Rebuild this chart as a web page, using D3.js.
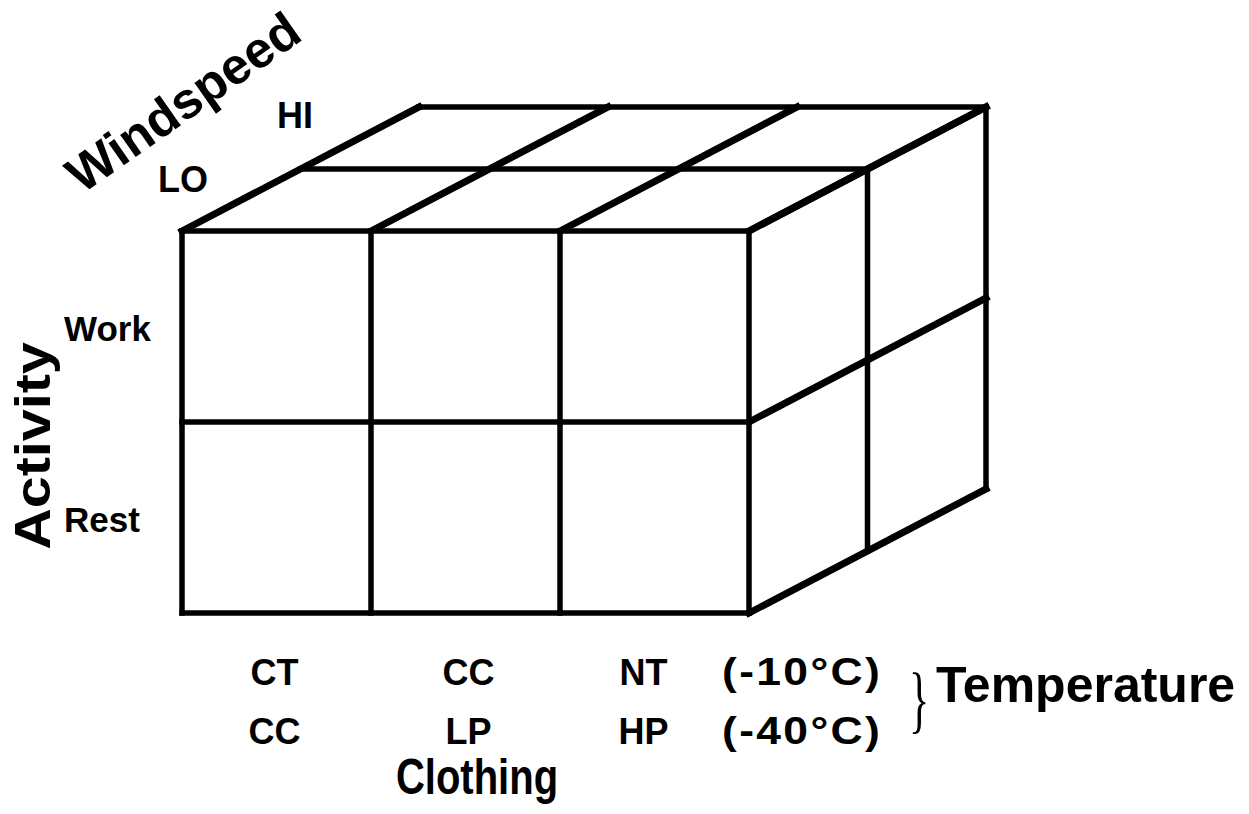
<!DOCTYPE html>
<html>
<head>
<meta charset="utf-8">
<script src="https://cdn.jsdelivr.net/npm/d3@7"></script>
<style>
  body { margin: 0; background: #fff; }
  text { font-family: 'Liberation Sans', Arial, Helvetica, sans-serif; font-weight: bold; fill: #000; }
</style>
</head>
<body>
<div id="chart"></div>
<script>
// categories of the three factors
let clothingCold = ['CT', 'CC', 'NT']
let clothingVeryCold = ['CC', 'LP', 'HP']
let temperatures = ['(-10°C)', '(-40°C)']
let activities = ['Work', 'Rest']
let windspeeds = ['LO', 'HI']

let width = 1249,
  height = 814

let svg = d3.select('#chart').append('svg')
  .attr('width', width)
  .attr('height', height)

// front face: columns = clothing, rows = activity; depth = windspeed
let x = d3.scaleLinear().domain([0, clothingCold.length]).range([182, 749])
let y = d3.scaleLinear().domain([0, activities.length]).range([231, 613])
let depth = d3.scaleLinear().domain([0, windspeeds.length]).range([0, 1])
let dx = 237,
  dy = -124

function p (i, j, k) {
  return [x(i) + depth(k) * dx, y(j) + depth(k) * dy]
}

let nC = clothingCold.length,
  nA = activities.length,
  nW = windspeeds.length

let segs = []
// front face
d3.range(nC + 1).forEach(i => segs.push({ a: p(i, 0, 0), b: p(i, nA, 0), w: 5.5 }))
d3.range(nA + 1).forEach(j => segs.push({ a: p(0, j, 0), b: p(nC, j, 0), w: 5.5 }))
// top face
d3.range(nW + 1).filter(k => k > 0).forEach(k => segs.push({ a: p(0, 0, k), b: p(nC, 0, k), w: 5.5 }))
d3.range(nC + 1).forEach(i => segs.push({ a: p(i, 0, 0), b: p(i, 0, nW), w: 7 }))
// right face
d3.range(nW + 1).filter(k => k > 0).forEach(k => segs.push({ a: p(nC, 0, k), b: p(nC, nA, k), w: 5.5 }))
d3.range(nA + 1).forEach(j => segs.push({ a: p(nC, j, 0), b: p(nC, j, nW), w: 7 }))

svg.append('g').selectAll('line')
  .data(segs)
  .enter().append('line')
  .attr('x1', d => d.a[0])
  .attr('y1', d => d.a[1])
  .attr('x2', d => d.b[0])
  .attr('y2', d => d.b[1])
  .attr('stroke', '#000')
  .attr('stroke-width', d => d.w)
  .attr('stroke-linecap', 'square')

// labels sit a little off the column centres in the original
let nudge = [-2, 3, -11]

svg.append('g').selectAll('text')
  .data(clothingCold)
  .enter().append('text')
  .attr('x', (d, i) => x(i + 0.5) + nudge[i])
  .attr('y', 685)
  .attr('text-anchor', 'middle')
  .style('font-size', '36px')
  .text(d => d)

svg.append('g').selectAll('text')
  .data(clothingVeryCold)
  .enter().append('text')
  .attr('x', (d, i) => x(i + 0.5) + nudge[i])
  .attr('y', 744)
  .attr('text-anchor', 'middle')
  .style('font-size', '36px')
  .text(d => d)

svg.append('g').selectAll('text')
  .data(temperatures)
  .enter().append('text')
  .attr('transform', (d, i) => 'translate(' + (x(nC) - 27) + ',' + (685 + i * 59) + ') scale(1.17,1)')
  .style('font-size', '38px')
  .style('letter-spacing', '2px')
  .text(d => d)

svg.append('text')
  .attr('transform', 'translate(477,794) scale(0.8,1)')
  .attr('text-anchor', 'middle')
  .style('font-size', '50px')
  .text('Clothing')

svg.append('text')
  .attr('transform', 'translate(909,724) scale(0.62,1.08)')
  .style('font-family', 'Liberation Serif, serif')
  .style('font-weight', 'normal')
  .style('font-size', '68px')
  .text('}')

svg.append('text')
  .attr('x', 936)
  .attr('y', 702)
  .style('font-size', '50px')
  .text('Temperature')

// activity labels
svg.append('g').selectAll('text')
  .data(activities)
  .enter().append('text')
  .attr('x', 64)
  .attr('y', (d, i) => y(i + 0.5) + 14)
  .style('font-size', '35px')
  .text(d => d)

svg.append('text')
  .attr('transform', 'translate(50,446) rotate(-90) scale(1.15,1)')
  .attr('text-anchor', 'middle')
  .style('font-size', '50px')
  .text('Activity')

// windspeed labels
svg.append('text')
  .attr('x', 183)
  .attr('y', 192)
  .attr('text-anchor', 'middle')
  .style('font-size', '36px')
  .text(windspeeds[0])

svg.append('text')
  .attr('x', 295)
  .attr('y', 128)
  .attr('text-anchor', 'middle')
  .style('font-size', '36px')
  .text(windspeeds[1])

svg.append('text')
  .attr('transform', 'translate(183,102) rotate(-35)')
  .attr('text-anchor', 'middle')
  .attr('dy', '0.35em')
  .style('font-size', '51px')
  .text('Windspeed')
</script>
</body>
</html>
